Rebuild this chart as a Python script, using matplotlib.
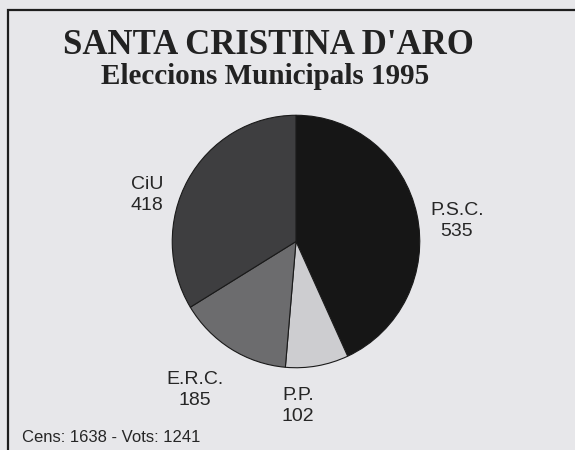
import matplotlib.pyplot as plt
from matplotlib.patches import Rectangle

# vote counts, clockwise from 12 o'clock
parties = ["P.S.C.", "P.P.", "E.R.C.", "CiU"]
votes = [535, 102, 185, 418]
colors = ["#161616", "#cdcdd0", "#6c6c6e", "#3e3e40"]
census = 1638
total_votes = 1241

W, H = 575, 450
BG = "#e7e7ea"


def fx(px):
    return px / W


def fy(py):
    return 1 - py / H


fig = plt.figure(figsize=(W / 100, H / 100), dpi=100, facecolor=BG)

# frame (runs off the right and bottom of the scan)
fig.patches.append(Rectangle((fx(8), fy(470)), fx(600), 460 / H, transform=fig.transFigure,
                             fill=False, edgecolor="#1e1e1e", lw=1.6))

# the scanned pie is slightly taller than wide
cx, cy, rx, ry = 296, 241.5, 125, 127.5
ax = fig.add_axes([fx(cx - rx), fy(cy + ry), 2 * rx / W, 2 * ry / H])
ax.pie(votes, colors=colors, startangle=90, counterclock=False,
       wedgeprops=dict(edgecolor="#1a1a1a", linewidth=0.8))
ax.set_aspect("auto")
ax.set_xlim(-1.01, 1.01)
ax.set_ylim(-1.01, 1.01)
ax.set_facecolor(BG)

serif = ["Liberation Serif", "DejaVu Serif"]
sans = ["Liberation Sans", "DejaVu Sans"]
fig.text(fx(268), fy(45), "SANTA CRISTINA D'ARO", family=serif, fontweight="bold",
         fontsize=25, ha="center", va="center", color="#222")
fig.text(fx(265), fy(77), "Eleccions Municipals 1995", family=serif, fontweight="bold",
         fontsize=21, ha="center", va="center", color="#222")

label_pos = {"P.S.C.": (457, 221), "P.P.": (298, 406), "E.R.C.": (195, 390), "CiU": (147, 195)}
for name, v in zip(parties, votes):
    x, y = label_pos[name]
    fig.text(fx(x), fy(y), f"{name}\n{v}", family=sans, fontsize=14, ha="center",
             va="center", linespacing=1.35, color="#262626")

fig.text(fx(22), fy(437), f"Cens: {census} - Vots: {total_votes}", family=sans,
         fontsize=12, ha="left", va="center", color="#262626")

fig.savefig("out.png", dpi=100, facecolor=BG)
